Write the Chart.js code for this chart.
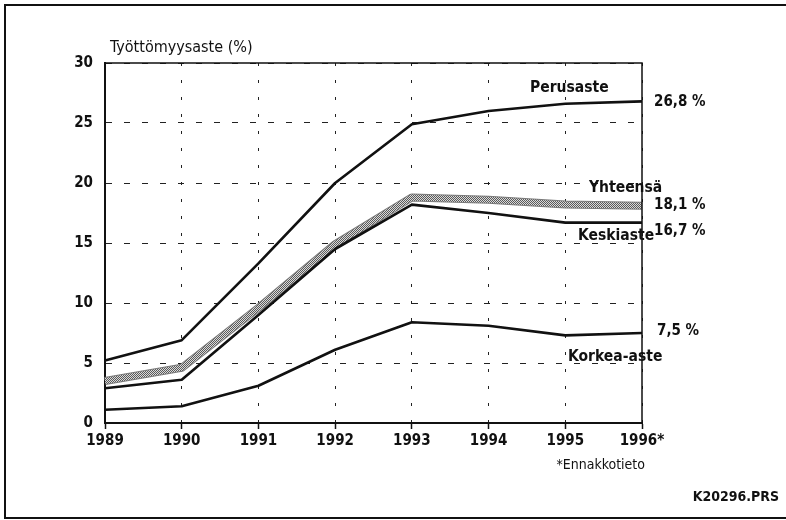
<!DOCTYPE html>
<html>
<head>
<meta charset="utf-8">
<script src="https://cdn.jsdelivr.net/npm/chart.js@4"></script>
<style>
  html, body { margin: 0; padding: 0; background: #fff; }
  #wrap { width: 786px; height: 520px; }
</style>
</head>
<body>
<div id="wrap"><canvas id="chart" width="786" height="520"></canvas></div>
<script>
// Työttömyysaste koulutusasteen mukaan
const years = ['1989', '1990', '1991', '1992', '1993', '1994', '1995', '1996*'];
const perusaste = [5.2, 6.9, 13.3, 20.0, 24.9, 26.0, 26.6, 26.8];
const yhteensa = [3.5, 4.6, 9.6, 14.9, 18.8, 18.6, 18.2, 18.1];
const keskiaste = [2.9, 3.6, 9.0, 14.5, 18.2, 17.5, 16.7, 16.7];
const korkeaAste = [1.1, 1.4, 3.1, 6.1, 8.4, 8.1, 7.3, 7.5];
const yTicks = [0, 5, 10, 15, 20, 25, 30];
const endLabels = ['26,8 %', '18,1 %', '16,7 %', '7,5 %'];

const FONT = '"Liberation Sans Narrow", "DejaVu Sans Condensed", sans-serif';

// harmaa rasterikuvio Yhteensä-viivalle (ruudukko)
const pc = document.createElement('canvas');
pc.width = 2; pc.height = 2;
const pctx = pc.getContext('2d');
pctx.fillStyle = '#dadada';
pctx.fillRect(0, 0, 2, 2);
pctx.fillStyle = '#5a5a5a';
pctx.fillRect(0, 0, 1, 1);
pctx.fillRect(1, 1, 1, 1);
const pattern = pctx.createPattern(pc, 'repeat');

const labelsPlugin = {
  id: 'labels',
  afterDraw(chart) {
    const ctx = chart.ctx;
    const a = chart.chartArea;
    const y = chart.scales.y;
    ctx.save();
    // ulkokehys
    ctx.strokeStyle = '#111';
    ctx.lineWidth = 2;
    ctx.beginPath();
    ctx.moveTo(790, 5);
    ctx.lineTo(5, 5);
    ctx.lineTo(5, 518);
    ctx.lineTo(790, 518);
    ctx.stroke();
    // kuva-alueen yläreuna ja oikea reuna
    ctx.lineWidth = 1.5;
    ctx.beginPath();
    ctx.moveTo(a.left, a.top);
    ctx.lineTo(a.right, a.top);
    ctx.lineTo(a.right, a.bottom);
    ctx.stroke();

    ctx.fillStyle = '#111';
    ctx.textBaseline = 'middle';
    ctx.textAlign = 'left';
    ctx.font = '16px ' + FONT;
    ctx.fillText('Työttömyysaste (%)', 110, 48);

    ctx.font = 'bold 15.5px ' + FONT;
    ctx.fillText('Perusaste', 530, 88);
    ctx.fillText('Yhteensä', 589, 188);
    ctx.fillText('Keskiaste', 578, 236);
    ctx.fillText('Korkea-aste', 568, 357);

    const lastP = perusaste[perusaste.length - 1];
    const lastY = yhteensa[yhteensa.length - 1];
    const lastK = keskiaste[keskiaste.length - 1];
    const lastKo = korkeaAste[korkeaAste.length - 1];
    ctx.font = 'bold 15px ' + FONT;
    ctx.fillText(endLabels[0], 654, y.getPixelForValue(lastP) + 1);
    ctx.fillText(endLabels[1], 654, y.getPixelForValue(lastY) - 1);
    ctx.fillText(endLabels[2], 654, y.getPixelForValue(lastK) + 9);
    ctx.fillText(endLabels[3], 657, y.getPixelForValue(lastKo) - 2);

    ctx.font = '14px ' + FONT;
    ctx.textAlign = 'right';
    ctx.fillText('*Ennakkotieto', 645, 465);
    ctx.font = 'bold 14px ' + FONT;
    ctx.fillText('K20296.PRS', 779, 497);
    ctx.restore();
  }
};

new Chart(document.getElementById('chart'), {
  type: 'line',
  data: {
    labels: years,
    datasets: [
      { label: 'Perusaste', data: perusaste, borderColor: '#111', borderWidth: 2.6 },
      { label: 'Keskiaste', data: keskiaste, borderColor: '#111', borderWidth: 2.6 },
      { label: 'Korkea-aste', data: korkeaAste, borderColor: '#111', borderWidth: 2.6 },
      { label: 'Yhteensä', data: yhteensa, borderColor: pattern, borderWidth: 6 },
      { label: 'Yhteensä reuna', data: yhteensa, borderColor: '#7a7a7a', borderWidth: 8 }
    ]
  },
  options: {
    responsive: false,
    animation: false,
    events: [],
    elements: { point: { radius: 0 }, line: { tension: 0, borderJoinStyle: 'round' } },
    layout: { padding: { left: 0, top: 63, right: 144, bottom: 0 } },
    plugins: { legend: { display: false }, tooltip: { enabled: false } },
    scales: {
      x: {
        offset: false,
        afterFit(s) { s.height = 97; },
        grid: {
          color: '#222',
          lineWidth: 1,
          drawTicks: true,
          tickLength: 6,
          tickColor: '#111',
          tickWidth: 1.5
        },
        border: { display: true, color: '#111', width: 2, dash: [3, 14] },
        ticks: {
          color: '#111',
          padding: 3,
          maxRotation: 0,
          font: { family: FONT, size: 15, weight: 'bold' }
        }
      },
      y: {
        min: 0,
        max: 30,
        afterFit(s) { s.width = 105; },
        afterBuildTicks(s) { s.ticks = yTicks.map(v => ({ value: v })); },
        grid: {
          color: '#222',
          lineWidth: 1,
          drawTicks: false
        },
        border: { display: true, color: '#111', width: 2, dash: [6, 12] },
        ticks: {
          color: '#111',
          padding: 12,
          font: { family: FONT, size: 15, weight: 'bold' }
        }
      }
    }
  },
  plugins: [labelsPlugin]
});
</script>
</body>
</html>
